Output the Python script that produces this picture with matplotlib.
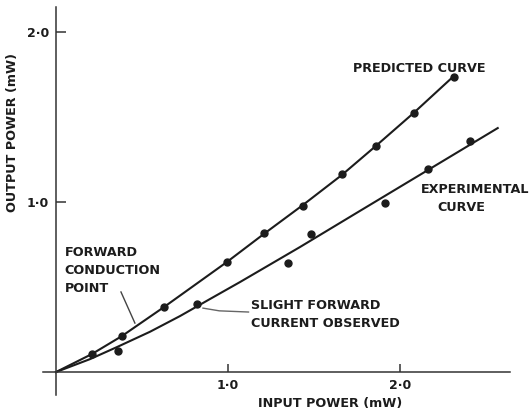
import matplotlib
matplotlib.use('Agg')
import matplotlib.pyplot as plt

# (mW)
predicted_curve_x = [0.0, 0.209, 0.384, 0.628, 0.994, 1.209, 1.436, 1.663, 1.860, 2.081, 2.308]
predicted_curve_y = [0.0, 0.106, 0.212, 0.382, 0.647, 0.812, 0.982, 1.159, 1.329, 1.524, 1.735]
predicted_pts_x = [0.209, 0.384, 0.628, 0.994, 1.209, 1.436, 1.663, 1.860, 2.081, 2.314]
predicted_pts_y = [0.106, 0.212, 0.382, 0.647, 0.818, 0.976, 1.165, 1.329, 1.524, 1.735]

experimental_curve_x = [0.0, 0.198, 0.355, 0.547, 0.721, 0.895, 1.070, 1.419, 1.767, 2.116, 2.570]
experimental_curve_y = [0.0, 0.076, 0.147, 0.237, 0.329, 0.429, 0.529, 0.735, 0.947, 1.159, 1.435]
experimental_pts_x = [0.360, 0.820, 1.349, 1.483, 1.913, 2.163, 2.407]
experimental_pts_y = [0.124, 0.400, 0.641, 0.812, 0.994, 1.194, 1.359]

x_ticks = [1.0, 2.0]
x_tick_labels = ['1·0', '2·0']
y_ticks = [1.0, 2.0]
y_tick_labels = ['1·0', '2·0']

ink = '#1c1c1c'
plt.rcParams['font.family'] = 'DejaVu Sans'

fig = plt.figure(figsize=(5.31, 4.13), dpi=100)
ax = fig.add_axes([0.081, 0.0436, 0.879, 0.9394])
ax.set_xlim(-0.0756, 2.640)
ax.set_ylim(-0.135, 2.147)

for side in ['top', 'right']:
    ax.spines[side].set_visible(False)
ax.spines['left'].set_position(('data', 0))
ax.spines['bottom'].set_position(('data', 0))
for side in ['left', 'bottom']:
    ax.spines[side].set_color('#333333')
    ax.spines[side].set_linewidth(1.1)

ax.set_xticks(x_ticks)
ax.set_xticklabels(x_tick_labels)
ax.set_yticks(y_ticks)
ax.set_yticklabels(y_tick_labels)
ax.tick_params(axis='x', direction='in', length=6, width=1.1, pad=5,
               labelsize=9, colors='#333333', labelcolor=ink)
ax.tick_params(axis='y', direction='in', length=7, width=1.1, pad=5,
               labelsize=9, colors='#333333', labelcolor=ink)
for lab in ax.get_xticklabels() + ax.get_yticklabels():
    lab.set_fontweight('bold')

ax.plot(predicted_curve_x, predicted_curve_y, '-', color=ink, lw=1.5)
ax.plot(experimental_curve_x, experimental_curve_y, '-', color=ink, lw=1.5)
ax.plot(predicted_pts_x, predicted_pts_y, 'o', color=ink, ms=5)
ax.plot(experimental_pts_x, experimental_pts_y, 'o', color=ink, ms=5)

txt = dict(color=ink, fontsize=9.2, fontweight='bold')
ax.text(2.116, 1.788, 'PREDICTED CURVE', ha='center', va='center', **txt)
ax.text(2.436, 1.071, 'EXPERIMENTAL', ha='center', va='center', **txt)
ax.text(2.36, 0.965, 'CURVE', ha='center', va='center', **txt)
ax.text(0.05, 0.60, 'FORWARD\nCONDUCTION\nPOINT', ha='left', va='center',
        linespacing=1.5, **txt)
ax.text(1.134, 0.338, 'SLIGHT FORWARD\nCURRENT OBSERVED', ha='left', va='center',
        linespacing=1.5, **txt)

# leader lines
ax.plot([0.378, 0.459], [0.471, 0.288], color='#444444', lw=1.0)
ax.plot([0.855, 0.95, 1.12], [0.376, 0.36, 0.353], color='#666666', lw=1.0)

fig.text(0.024, 0.678, 'OUTPUT POWER (mW)', rotation=90, ha='center', va='center', **txt)
fig.text(0.622, 0.022, 'INPUT POWER (mW)', ha='center', va='center', **txt)

fig.savefig('out.png', dpi=100)
